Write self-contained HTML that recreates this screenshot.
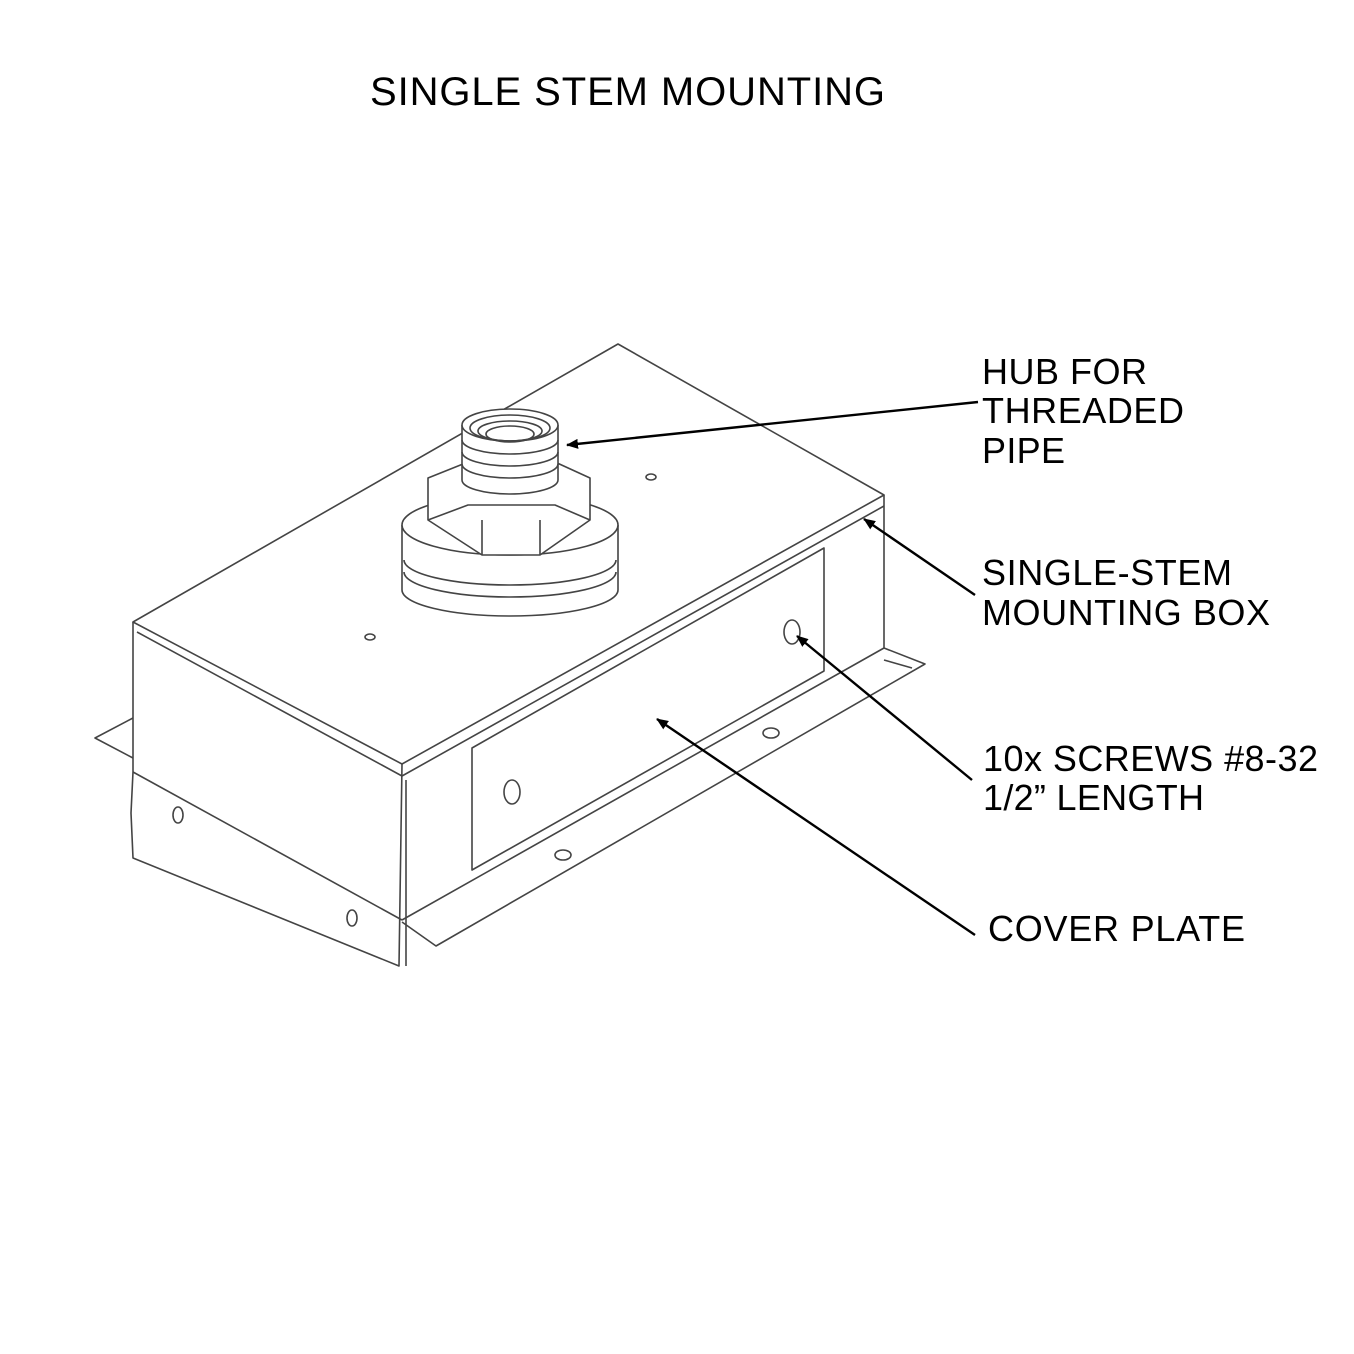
<!DOCTYPE html>
<html><head><meta charset="utf-8"><style>
html,body{margin:0;padding:0;background:#fff}
svg{display:block}
text{font-family:"Liberation Sans",Arial,sans-serif;fill:#000}
</style></head><body>
<svg width="1354" height="1354" viewBox="0 0 1354 1354" xmlns="http://www.w3.org/2000/svg">
<defs><marker id="ah" markerWidth="12" markerHeight="10" refX="11" refY="5" orient="auto" markerUnits="userSpaceOnUse"><path d="M0,0 L12,5 L0,10 z" fill="#000"/></marker></defs>
<text x="370" y="105" font-size="40" textLength="515">SINGLE STEM MOUNTING</text>
<g fill="none" stroke="#444" stroke-width="1.6" stroke-linejoin="round">
<path d="M133,718 L95,738 L133,758"/>
<path d="M884,648 L925,664 L436,946 L402,922"/>
<path d="M884,660 L912,668"/>
<path d="M133,622 L618,344 L884,495 L402,764 Z" fill="#fff"/>
<path d="M137,632 L402,776 L884,506"/>
<path d="M133,622 L133,772 L131,813 L133,858 L399,966 L402,764"/>
<path d="M133,772 L402,920"/>
<path d="M884,495 L884,648 L402,920"/>
<path d="M406,780 L406,966"/>
<path d="M472,748 L824,548 L824,671 L472,870 Z"/>
<ellipse cx="178" cy="815" rx="5" ry="8"/>
<ellipse cx="352" cy="918" rx="5" ry="8"/>
<ellipse cx="563" cy="855" rx="8" ry="5"/>
<ellipse cx="771" cy="733" rx="8" ry="5"/>
<ellipse cx="370" cy="637" rx="5" ry="3"/>
<ellipse cx="651" cy="477" rx="5" ry="3"/>
<ellipse cx="512" cy="792" rx="8" ry="12"/>
<ellipse cx="792" cy="632" rx="8" ry="12"/>
<path d="M402,525 L402,590 A108,26 0 0 0 618,590 L618,525" fill="#fff"/>
<ellipse cx="510" cy="525" rx="108" ry="30" fill="#fff"/>
<path d="M404,560 A106,25 0 0 0 616,560"/>
<path d="M404,572 A106,25 0 0 0 616,572"/>
<path d="M428,478 L468,462 L555,462 L590,478 L590,520 L540,555 L482,555 L428,520 Z" fill="#fff"/>
<path d="M428,520 L468,505 L555,505 L590,520"/>
<path d="M482,555 L482,520 M540,555 L540,520"/>
<path d="M462,425 L462,480 A48,14 0 0 0 558,480 L558,425" fill="#fff"/>
<ellipse cx="510" cy="425" rx="48" ry="16" fill="#fff"/>
<ellipse cx="510" cy="428" rx="40" ry="13"/>
<ellipse cx="510" cy="431" rx="32" ry="10"/>
<ellipse cx="510" cy="434" rx="24" ry="8"/>
<path d="M462,440 A48,14 0 0 0 558,440 M462,452 A48,14 0 0 0 558,452 M462,464 A48,14 0 0 0 558,464"/>
</g>
<g stroke="#000" stroke-width="2.4" fill="none">
<line x1="978" y1="402" x2="567" y2="445" marker-end="url(#ah)"/>
<line x1="975" y1="595" x2="864" y2="519" marker-end="url(#ah)"/>
<line x1="972" y1="780" x2="797" y2="636" marker-end="url(#ah)"/>
<line x1="975" y1="935" x2="657" y2="719" marker-end="url(#ah)"/>
</g>
<g font-size="36">
<text x="982" y="384" textLength="165">HUB FOR</text>
<text x="982" y="423" textLength="202">THREADED</text>
<text x="982" y="463" textLength="83">PIPE</text>
<text x="982" y="585" textLength="250">SINGLE-STEM</text>
<text x="982" y="625" textLength="288">MOUNTING BOX</text>
<text x="983" y="771" textLength="335">10x SCREWS #8-32</text>
<text x="983" y="810" textLength="221">1/2” LENGTH</text>
<text x="988" y="941" textLength="257">COVER PLATE</text>
</g>
</svg>
</body></html>
